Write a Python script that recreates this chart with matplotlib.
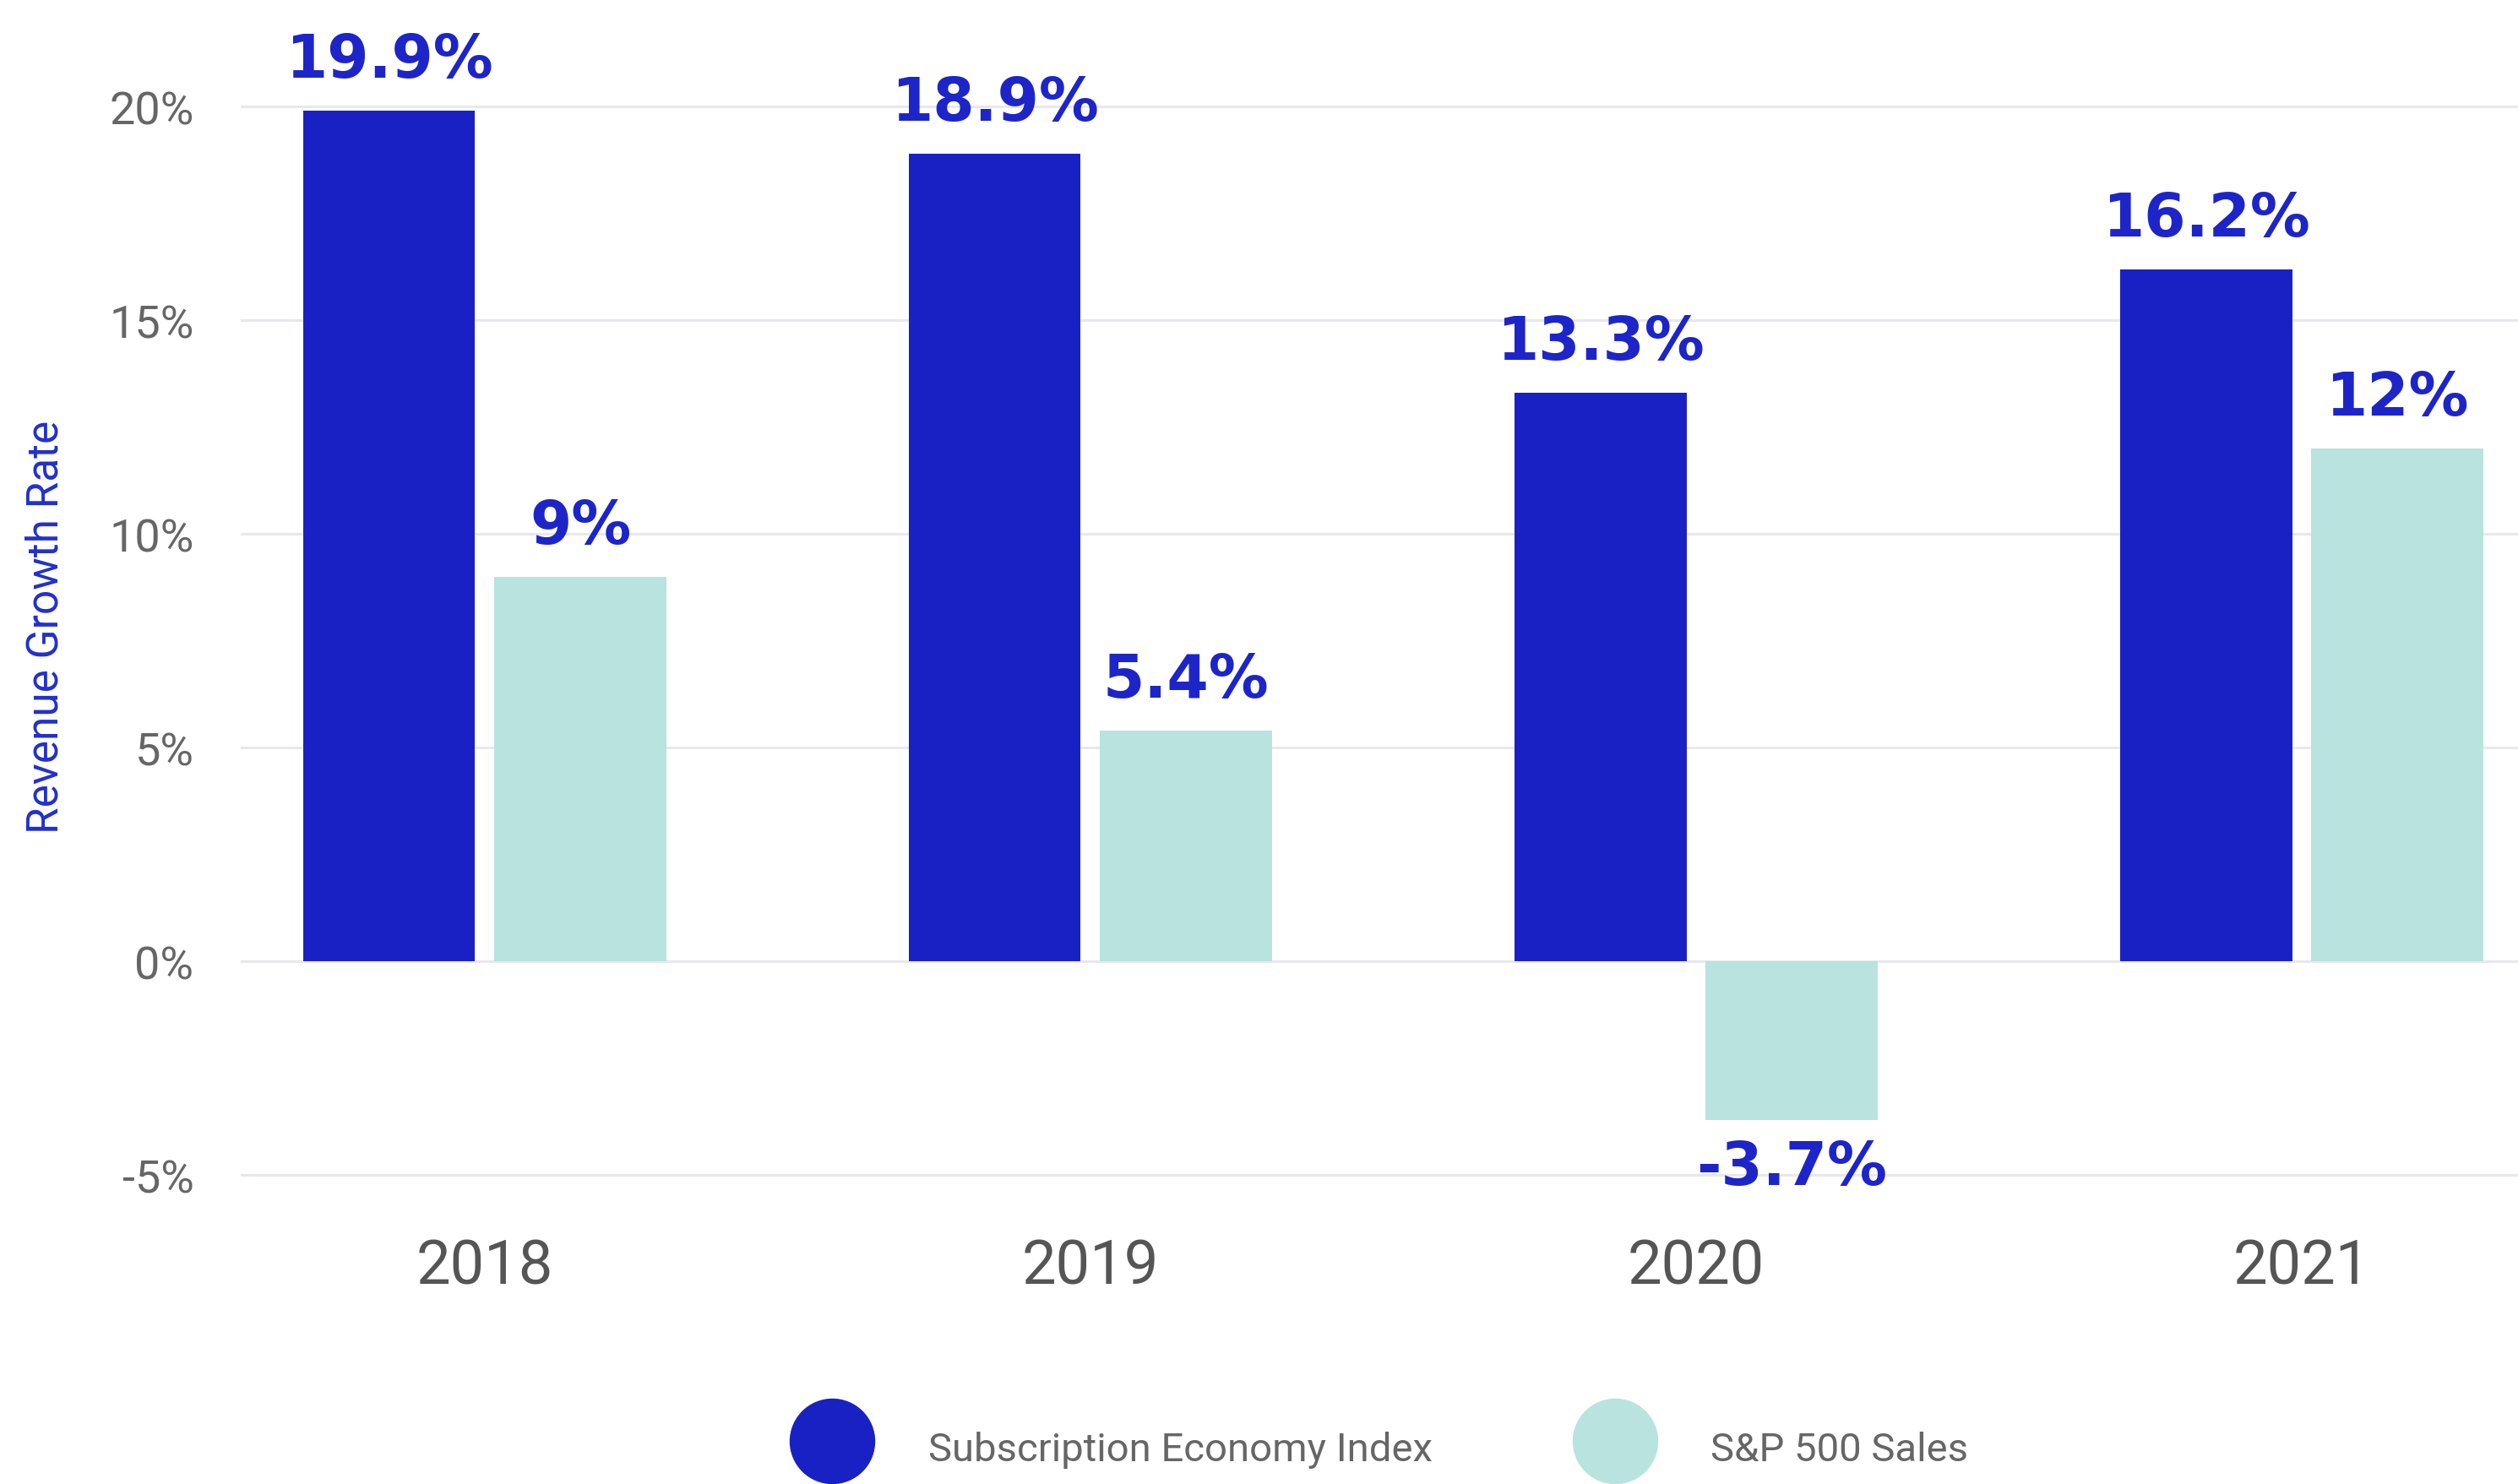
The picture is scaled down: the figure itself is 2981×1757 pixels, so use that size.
import matplotlib
matplotlib.use("Agg")
import matplotlib.pyplot as plt
import numpy as np
from matplotlib.lines import Line2D

# Revenue growth by year, in percent
years = ["2018", "2019", "2020", "2021"]
series_names = ["Subscription Economy Index", "S&P 500 Sales"]
subscription_growth = [19.9, 18.9, 13.3, 16.2]
sp500_growth = [9.0, 5.4, -3.7, 12.0]
y_ticks = [-5, 0, 5, 10, 15, 20]

BLUE = "#1a21c4"
TEAL = "#b9e3de"
LABEL_BLUE = "#1d25c9"
GRID = "#e8e8ec"
TICK_GREY = "#666666"

plt.rcParams["font.family"] = ["Roboto", "DejaVu Sans"]

fig = plt.figure(figsize=(29.81, 17.58), dpi=100)
fig.patch.set_facecolor("white")
ax = fig.add_axes([0.0956, 0.1706, 0.9044, 0.8146])

x = np.arange(len(years))
width = 0.284
offset = 0.158

bars_sub = ax.bar(x - offset, subscription_growth, width, color=BLUE, zorder=3)
bars_sp = ax.bar(x + offset, sp500_growth, width, color=TEAL, zorder=3)

# value labels above (or below) each bar
for bars, values in [(bars_sub, subscription_growth), (bars_sp, sp500_growth)]:
    for bar, v in zip(bars, values):
        cx = bar.get_x() + bar.get_width() / 2
        ax.annotate(f"{v:g}%", xy=(cx, v),
                    xytext=(0, 18 if v >= 0 else -16), textcoords="offset points",
                    ha="center", va="bottom" if v >= 0 else "top",
                    fontsize=51, fontweight="bold", color=LABEL_BLUE,
                    family="DejaVu Sans")

ax.set_xlim(-0.403, 3.357)
ax.set_ylim(-6.3, 22)
ax.set_xticks(x)
ax.set_xticklabels(years)
ax.set_yticks(y_ticks)
ax.set_yticklabels([f"{t}%" for t in y_ticks])

ax.grid(axis="y", color=GRID, linewidth=2.2)
ax.set_axisbelow(True)
for side in ["top", "right", "left", "bottom"]:
    ax.spines[side].set_visible(False)

ax.tick_params(axis="y", length=0, pad=40, labelsize=39, labelcolor=TICK_GREY)
ax.tick_params(axis="x", length=0, pad=6, labelsize=52, labelcolor="#555555")

ax.set_ylabel("Revenue Growth Rate", fontsize=37, color="#2230cc")
ax.yaxis.set_label_coords(-0.0764, 0.5)

# legend: round swatches with grey captions along the bottom
legend_items = [(0.3305, 0.3687, BLUE), (0.6414, 0.6793, TEAL)]
for name, (mx, tx, color) in zip(series_names, legend_items):
    fig.add_artist(Line2D([mx], [0.029], marker="o", markersize=72,
                          color=color, linestyle="none",
                          transform=fig.transFigure))
    fig.text(tx, 0.0233, name, fontsize=34, color=TICK_GREY,
             ha="left", va="center")

fig.savefig("out.png", dpi=100)
